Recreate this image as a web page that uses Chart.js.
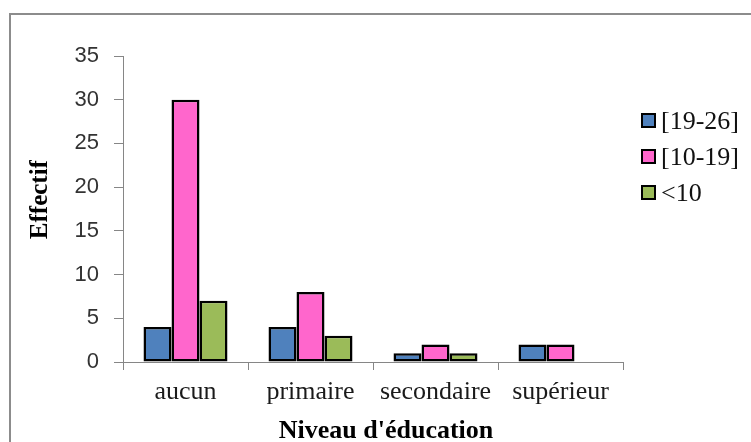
<!DOCTYPE html>
<html>
<head>
<meta charset="utf-8">
<script src="https://cdn.jsdelivr.net/npm/chart.js@4"></script>
<style>
    html, body { margin: 0; padding: 0; background: #ffffff; }
    #frame {
        position: absolute; left: 9px; top: 13px; width: 760px; height: 440px;
        border-left: 2px solid #8c8c8c; border-top: 2px solid #8c8c8c;
    }
    #wrap { position: absolute; left: 0; top: 0; width: 751px; height: 442px; }
</style>
</head>
<body>
<div id="frame"></div>
<div id="wrap"><canvas id="chart" width="751" height="442"></canvas></div>
<script>
const categories = ['aucun', 'primaire', 'secondaire', 'supérieur'];
const seriesLabels = ['[19-26]', '[10-19]', '<10'];
const series1926 = [4, 4, 1, 2];
const series1019 = [30, 8, 2, 2];
const seriesUnder10 = [7, 3, 1, null];
const yTicks = [0, 5, 10, 15, 20, 25, 30, 35];

const colors = ['#4f81bd', '#ff66cc', '#9bbb59'];
const serif = '"Liberation Serif", "Times New Roman", serif';
const axisGray = '#868686';

// simple legend on the right, drawn from the datasets
const sideLegend = {
    id: 'sideLegend',
    afterDraw(chart) {
        const ctx = chart.ctx;
        ctx.save();
        ctx.font = '26px ' + serif;
        ctx.textBaseline = 'middle';
        chart.data.datasets.forEach((ds, i) => {
            const cy = 121 + i * 36;
            ctx.fillStyle = ds.backgroundColor;
            ctx.fillRect(642, cy - 7, 13, 13);
            ctx.lineWidth = 2;
            ctx.strokeStyle = '#000000';
            ctx.strokeRect(642, cy - 7, 13, 13);
            ctx.fillStyle = '#111111';
            ctx.fillText(ds.label, 661, cy + 1);
        });
        ctx.restore();
    }
};

const datasets = [series1926, series1019, seriesUnder10].map((values, i) => ({
    label: seriesLabels[i],
    data: values,
    backgroundColor: colors[i],
    borderColor: '#000000',
    borderWidth: 2.5,
    borderSkipped: false,
    categoryPercentage: 0.672,
    barPercentage: 1.0
}));

new Chart(document.getElementById('chart'), {
    type: 'bar',
    data: { labels: categories, datasets: datasets },
    plugins: [sideLegend],
    options: {
        responsive: false,
        animation: false,
        events: [],
        layout: { padding: { left: 0, top: 56, right: 128, bottom: 0 } },
        plugins: {
            legend: { display: false },
            tooltip: { enabled: false }
        },
        scales: {
            x: {
                afterFit: function (scale) { scale.height = 80; },
                grid: {
                    offset: true,
                    drawOnChartArea: false,
                    tickLength: 8,
                    color: axisGray
                },
                border: { color: axisGray, width: 1 },
                ticks: {
                    padding: 7,
                    color: '#1a1a1a',
                    font: { family: serif, size: 26 }
                },
                title: {
                    display: true,
                    text: "    Niveau d'éducation",
                    color: '#000000',
                    padding: { top: 0, bottom: 0 },
                    font: { family: serif, size: 26, weight: 'bold', lineHeight: 0.8 }
                }
            },
            y: {
                min: 0,
                max: 35,
                afterFit: function (scale) { scale.width = 123; },
                afterBuildTicks: function (scale) {
                    scale.ticks = yTicks.map(v => ({ value: v }));
                },
                grid: {
                    drawOnChartArea: false,
                    tickLength: 9,
                    color: axisGray
                },
                border: { color: axisGray, width: 1 },
                ticks: {
                    padding: 15,
                    color: '#333333',
                    font: { family: '"Liberation Sans", Arial, sans-serif', size: 22 }
                },
                title: {
                    display: true,
                    text: '   Effectif',
                    color: '#000000',
                    padding: { top: 26, bottom: 0 },
                    font: { family: serif, size: 25, weight: 'bold', lineHeight: 1.2 }
                }
            }
        }
    }
});
</script>
</body>
</html>
